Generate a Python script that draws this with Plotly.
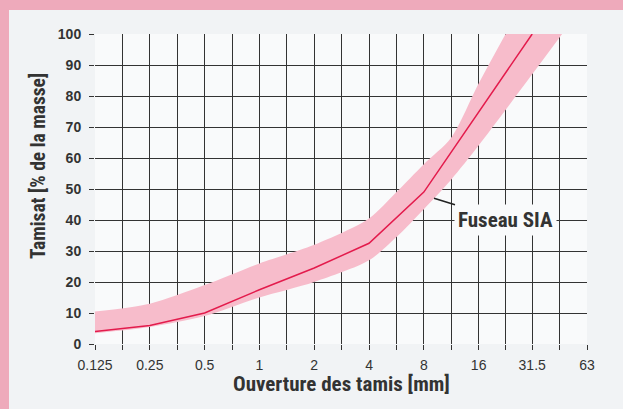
import math
import plotly.graph_objects as go

# ---- data ----
tick_sizes = [0.125, 0.25, 0.5, 1, 2, 4, 8, 16, 31.5, 63]
tick_labels = ["0.125", "0.25", "0.5", "1", "2", "4", "8", "16", "31.5", "63"]

mid_sizes = [0.125, 0.25, 0.5, 1, 2, 4, 8, 16, 31.5]
mid_values = [4, 6, 10, 17.5, 24.5, 32.5, 49, 75, 100]

upper_sizes = [0.125, 0.25, 0.5, 1, 2, 4, 5.66, 8, 11.3, 16, 22.5]
upper_values = [10.5, 13, 19, 26, 32, 40.5, 49, 58, 66.5, 84, 100]

lower_sizes = [0.125, 0.25, 0.5, 1, 2, 4, 5.66, 8, 11.3, 16, 31.5, 46]
lower_values = [3.5, 5.5, 9, 15, 20, 27, 34.5, 43.5, 53, 64, 87, 100]

y_ticks = list(range(0, 101, 10))

label_text = "Fuseau SIA"
label_point = (9.1, 47)
x_title = "Ouverture des tamis [mm]"
y_title = "Tamisat [% de la masse]"

# ---- styles ----
PINK_BORDER = "#eeaabb"
PANEL = "#f1f3f5"
PLOT_BG = "#f9fafb"
BAND = "#f7bccb"
RED = "#e31b4c"
GRID = "#333333"
TEXT = "#333333"
NARROW = "Roboto Condensed, Liberation Sans Narrow, Liberation Sans, Arial, sans-serif"
TICKFONT = "Liberation Sans, Arial, sans-serif"

# grid lines every half-doubling: label positions plus geometric midpoints
grid_vals, grid_text = [], []
for i, v in enumerate(tick_sizes):
    grid_vals.append(v)
    grid_text.append(tick_labels[i])
    if i < len(tick_sizes) - 1:
        grid_vals.append(math.sqrt(v * tick_sizes[i + 1]))
        grid_text.append("")

fig = go.Figure()

fig.add_trace(go.Scatter(
    x=lower_sizes, y=lower_values, mode="lines",
    line=dict(width=0, color=BAND, shape="spline", smoothing=0.8),
    hoverinfo="skip", showlegend=False,
))
fig.add_trace(go.Scatter(
    x=upper_sizes, y=upper_values, mode="lines", fill="tonexty",
    fillcolor=BAND,
    line=dict(width=0, color=BAND, shape="spline", smoothing=0.8),
    hoverinfo="skip", showlegend=False,
))
fig.add_trace(go.Scatter(
    x=mid_sizes, y=mid_values, mode="lines",
    line=dict(width=1.5, color=RED),
    hoverinfo="skip", showlegend=False,
))

L, R, T, B = 95, 36, 34, 65
W, H = 623, 409
pw, ph = W - L - R, H - T - B

def px_x(px):
    return (px - L) / pw

def px_y(py):
    return (H - B - py) / ph

# panel (inside pink frame) and plot-area tint
fig.add_shape(type="rect", xref="paper", yref="paper", layer="below",
              x0=px_x(9), x1=px_x(640), y0=px_y(430), y1=px_y(10),
              fillcolor=PANEL, line=dict(width=0))
fig.add_shape(type="rect", xref="paper", yref="paper", layer="below",
              x0=0, x1=1, y0=0, y1=1,
              fillcolor=PLOT_BG, line=dict(width=0))

fig.add_annotation(
    x=math.log10(label_point[0]), y=label_point[1], xref="x", yref="y",
    text=label_text, showarrow=True, arrowhead=0, arrowwidth=1.6,
    arrowcolor="#222222", ax=71, ay=22,
    font=dict(family=NARROW, size=21, color=TEXT, weight="bold"),
    bgcolor=PLOT_BG, borderpad=3,
)

fig.add_annotation(
    x=0.5, y=px_y(384), xref="paper", yref="paper", showarrow=False,
    text=x_title, font=dict(family=NARROW, size=21, color=TEXT, weight="bold"),
    xanchor="center", yanchor="middle",
)
fig.add_annotation(
    x=px_x(38), y=px_y(166), xref="paper", yref="paper", showarrow=False,
    text=y_title, textangle=-90,
    font=dict(family=NARROW, size=19.5, color=TEXT, weight="bold"),
    xanchor="center", yanchor="middle",
)

fig.update_xaxes(
    type="log", range=[math.log10(tick_sizes[0]), math.log10(tick_sizes[-1])],
    tickmode="array", tickvals=grid_vals, ticktext=grid_text,
    showgrid=True, gridcolor=GRID, gridwidth=1.4,
    ticks="outside", ticklen=5, tickwidth=1.4, tickcolor=GRID,
    showline=False, zeroline=False, ticklabelstandoff=3,
    tickfont=dict(family=TICKFONT, size=14, color=TEXT),
)
fig.update_yaxes(
    range=[0, 100], tickmode="array", tickvals=y_ticks,
    showgrid=True, gridcolor=GRID, gridwidth=1.4,
    ticks="outside", ticklen=5, tickwidth=1.4, tickcolor=GRID,
    showline=False, zeroline=False, ticklabelstandoff=5,
    tickfont=dict(family=TICKFONT, size=14, color=TEXT, weight="bold"),
)

fig.update_layout(
    width=W, height=H,
    margin=dict(l=L, r=R, t=T, b=B, pad=0),
    paper_bgcolor=PINK_BORDER, plot_bgcolor="rgba(0,0,0,0)",
    showlegend=False,
)

fig.write_html(
    "out.html",
    config={"displayModeBar": False},
    post_script="document.body.style.margin='0';document.body.style.overflow='hidden';",
)
